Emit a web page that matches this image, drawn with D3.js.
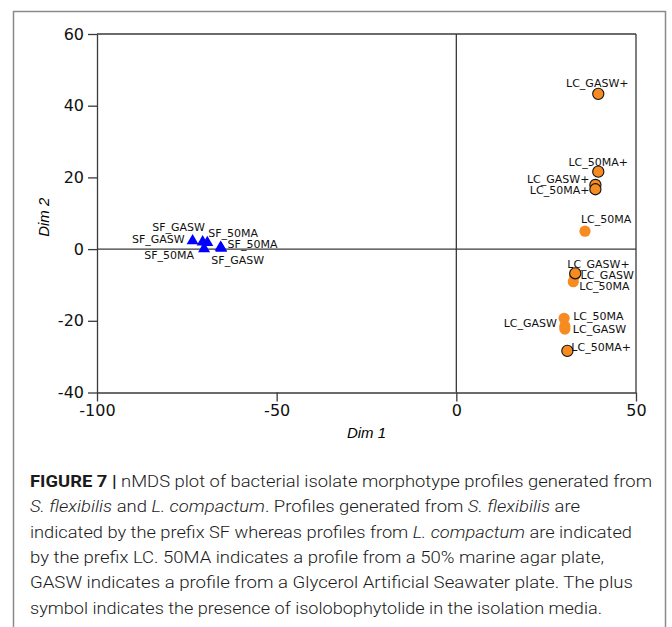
<!DOCTYPE html>
<html>
<head>
<meta charset="utf-8">
<script src="https://cdn.jsdelivr.net/npm/d3@7"></script>
<style>
  body { margin: 0; background: #fff; }
  svg { display: block; }
</style>
</head>
<body>
<div id="chart"></div>
<script>
// Data
const sfLabels = ["SF_GASW", "SF_GASW", "SF_50MA", "SF_50MA", "SF_50MA", "SF_GASW"];
const sfDim1 = [-73.4, -70.6, -69.3, -70.2, -65.6, -65.4];
const sfDim2 = [2.3, 2.0, 1.8, 0.1, 0.5, 0.2];

const lcLabels = ["LC_GASW+", "LC_50MA+", "LC_GASW+", "LC_50MA+", "LC_50MA", "LC_GASW+",
                  "LC_GASW", "LC_50MA", "LC_50MA", "LC_GASW", "LC_GASW", "LC_50MA+"];
const lcDim1 = [39.5, 39.5, 38.7, 38.7, 35.8, 33.1, 32.9, 32.55, 30.0, 30.2, 30.2, 30.9];
const lcDim2 = [43.3, 21.6, 17.9, 16.7, 5.0, -6.75, -7.5, -9.1, -19.3, -21.5, -22.3, -28.4];

const xTicks = [-100, -50, 0, 50];
const yTicks = [-40, -20, 0, 20, 40, 60];

// Label placement (anchor, dx, dy) relative to each point
const sfLabelPos = [["middle", -14, -10], ["end", -18, 1], ["start", 1, -6],
                    ["end", -10, 10], ["start", 7, 1], ["start", -10, 16]];
const lcLabelPos = [["middle", -1, -7], ["middle", 0, -6], ["end", -6, -2], ["end", -6, 5],
                    ["start", -4, -8], ["start", -8, -5], ["start", 6, 3], ["start", 6, 8],
                    ["start", 9, 2], ["end", -8, 1], ["start", 8, 4], ["start", 4, 0]];

const captionLines = [
  [["b", "FIGURE 7 |"], ["n", " nMDS plot of bacterial isolate morphotype profiles generated from"]],
  [["i", "S. flexibilis"], ["n", " and "], ["i", "L. compactum"], ["n", ". Profiles generated from "], ["i", "S. flexibilis"], ["n", " are"]],
  [["n", "indicated by the prefix SF whereas profiles from "], ["i", "L. compactum"], ["n", " are indicated"]],
  [["n", "by the prefix LC. 50MA indicates a profile from a 50% marine agar plate,"]],
  [["n", "GASW indicates a profile from a Glycerol Artificial Seawater plate. The plus"]],
  [["n", "symbol indicates the presence of isolobophytolide in the isolation media."]]
];
const captionWidths = [622, 550, 602, 574, 603, 572];

const W = 672, H = 627;
const plot = {left: 97, right: 636, top: 34, bottom: 392.5};

const svg = d3.select("#chart").append("svg")
  .attr("width", W).attr("height", H);

// Outer frame
svg.append("path")
  .attr("d", `M13.5,${H + 2}V11.5H665.5V${H + 2}`)
  .attr("fill", "none")
  .attr("stroke", "#8a8a8a")
  .attr("stroke-width", 1.5);

const x = d3.scaleLinear().domain([-100, 50]).range([plot.left, plot.right]);
const y = d3.scaleLinear().domain([-40, 60]).range([plot.bottom, plot.top]);

const lineColor = "#3a3a3a";

// Box top/right and zero lines
const g = svg.append("g");
g.append("line").attr("x1", x(-100)).attr("x2", x(50)).attr("y1", y(60)).attr("y2", y(60));
g.append("line").attr("x1", x(50)).attr("x2", x(50)).attr("y1", y(60)).attr("y2", y(-40));
g.append("line").attr("x1", x(-100)).attr("x2", x(50)).attr("y1", y(0)).attr("y2", y(0));
g.append("line").attr("x1", x(0)).attr("x2", x(0)).attr("y1", y(60)).attr("y2", y(-40));
g.selectAll("line").attr("stroke", lineColor).attr("stroke-width", 1.3);

// Axes (plain hyphen for negatives, as in the figure)
const fmt = d => String(d);
const xAxis = svg.append("g")
  .attr("transform", `translate(0,${plot.bottom})`)
  .call(d3.axisBottom(x).tickValues(xTicks).tickFormat(fmt).tickSize(9).tickSizeOuter(0).tickPadding(3));
const yAxis = svg.append("g")
  .attr("transform", `translate(${plot.left},0)`)
  .call(d3.axisLeft(y).tickValues(yTicks).tickFormat(fmt).tickSize(9).tickSizeOuter(0).tickPadding(4));
[xAxis, yAxis].forEach(a => {
  a.selectAll("path, line").attr("stroke", lineColor).attr("stroke-width", 1.3);
  a.selectAll("text")
    .attr("fill", "#111")
    .style("font-family", "DejaVu Sans")
    .style("font-size", "16px");
});

// Axis titles
svg.append("text")
  .attr("x", (plot.left + plot.right) / 2)
  .attr("y", 438)
  .attr("text-anchor", "middle")
  .style("font-family", "Liberation Sans")
  .style("font-style", "italic")
  .style("font-size", "15px")
  .text("Dim 1");
svg.append("text")
  .attr("transform", `translate(49,${(plot.top + plot.bottom) / 2 + 4})rotate(-90)`)
  .attr("text-anchor", "middle")
  .style("font-family", "Liberation Sans")
  .style("font-style", "italic")
  .style("font-size", "15px")
  .text("Dim 2");

// Points
const sf = sfLabels.map((l, i) => ({label: l, d1: sfDim1[i], d2: sfDim2[i], pos: sfLabelPos[i]}));
const lc = lcLabels.map((l, i) => ({label: l, d1: lcDim1[i], d2: lcDim2[i], pos: lcLabelPos[i],
                                    plus: l.endsWith("+")}));

svg.append("g").selectAll("path")
  .data(sf)
  .join("path")
    .attr("d", d3.symbol(d3.symbolTriangle, 62))
    .attr("transform", d => `translate(${x(d.d1)},${y(d.d2)})`)
    .attr("fill", "#0000ff");

svg.append("g").selectAll("circle")
  .data(lc.slice().sort((a, b) => a.plus - b.plus))
  .join("circle")
    .attr("cx", d => x(d.d1))
    .attr("cy", d => y(d.d2))
    .attr("r", 5.6)
    .attr("fill", "#f68b22")
    .attr("stroke", d => d.plus ? "#111" : "none")
    .attr("stroke-width", 1.1);

// Point labels
svg.append("g").selectAll("text")
  .data(sf.concat(lc))
  .join("text")
    .attr("x", d => x(d.d1) + d.pos[1])
    .attr("y", d => y(d.d2) + d.pos[2])
    .attr("text-anchor", d => d.pos[0])
    .style("font-family", "DejaVu Sans")
    .style("font-size", "11px")
    .attr("fill", "#111")
    .text(d => d.label);

// Caption
const cap = svg.append("g");
captionLines.forEach((line, i) => {
  const t = cap.append("text")
    .attr("x", 30)
    .attr("y", 487 + i * 25.3)
    .attr("textLength", captionWidths[i])
    .attr("lengthAdjust", "spacingAndGlyphs")
    .style("font-family", "Roboto")
    .style("font-size", "16.5px")
    .style("font-weight", 300)
    .attr("fill", "#1a1a1a");
  line.forEach(([kind, s]) => {
    const ts = t.append("tspan").text(s);
    if (kind === "b") ts.style("font-weight", 700);
    if (kind === "i") ts.style("font-style", "italic");
  });
});
</script>
</body>
</html>
